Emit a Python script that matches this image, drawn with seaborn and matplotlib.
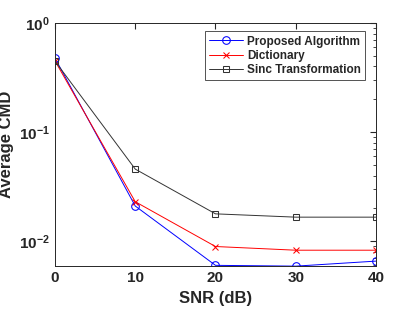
# import libraries
import matplotlib
matplotlib.use('Agg')
import matplotlib.pyplot as plt
import seaborn as sns

# data
snr = [0, 10, 20, 30, 40]
proposed = [0.477, 0.0210, 0.0060, 0.0059, 0.00656]
dictionary = [0.450, 0.0230, 0.00893, 0.00826, 0.00826]
sinc = [0.448, 0.0458, 0.0178, 0.0166, 0.0166]
labels = ['Proposed Algorithm', 'Dictionary', 'Sinc Transformation']

sns.set_style('white')
plt.rcParams['font.family'] = ['Liberation Sans', 'DejaVu Sans']
plt.rcParams['font.weight'] = 'bold'

fig = plt.figure(figsize=(4.15, 3.12), dpi=100, facecolor='white')
ax = fig.add_axes([0.1325, 0.147, 0.7735, 0.779])

# plot the three curves
sns.lineplot(x=snr, y=proposed, ax=ax, color='#0000ff', marker='o', markersize=5.5,
             markerfacecolor='none', markeredgecolor='#0000ff', linewidth=0.7, label=labels[0])
sns.lineplot(x=snr, y=dictionary, ax=ax, color='#ff0000', marker='x', markersize=4.5,
             markeredgecolor='#ff0000', linewidth=0.7, label=labels[1])
sns.lineplot(x=snr, y=sinc, ax=ax, color='#333333', marker='s', markersize=4.5,
             markerfacecolor='none', markeredgecolor='#333333', linewidth=0.7, label=labels[2])

# axes
ax.set_yscale('log')
ax.set_xlim(0, 40)
ax.set_ylim(0.0059, 1)
ax.set_xticks([0, 10, 20, 30, 40])
ax.set_xlabel('SNR (dB)', fontsize=12, fontweight='bold')
ax.set_ylabel('Average CMD', fontsize=12, fontweight='bold')
ax.tick_params(axis='both', which='both', direction='in', top=True, right=True,
               labelsize=11, colors='#262626')
ax.tick_params(which='major', length=4)
ax.tick_params(which='minor', length=2)
for s in ax.spines.values():
    s.set_color('#262626')
    s.set_linewidth(0.7)

# legend
leg = ax.legend(loc='upper right', bbox_to_anchor=(0.985, 0.99), fontsize=8.5,
                frameon=True, fancybox=False, edgecolor='#262626',
                handlelength=2.8, borderpad=0.35, labelspacing=0.2, handletextpad=0.4)
leg.get_frame().set_linewidth(0.7)
for t in leg.get_texts():
    t.set_fontweight('bold')

plt.savefig('out.png', dpi=100)
